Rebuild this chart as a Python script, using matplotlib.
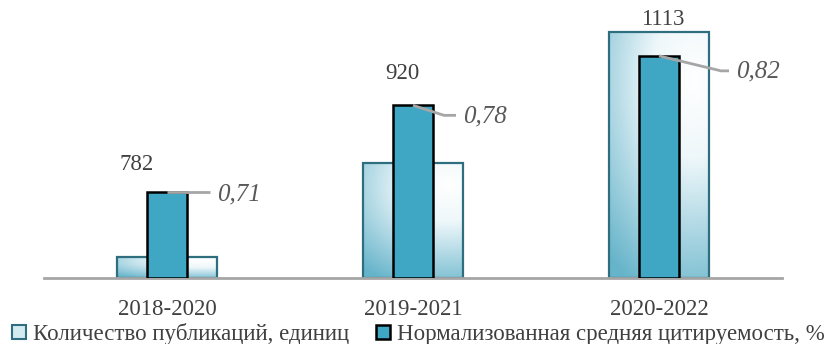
import numpy as np
import matplotlib.pyplot as plt
from matplotlib.patches import Patch
from matplotlib.colors import LinearSegmentedColormap

# publications per period and normalised mean citation rate
periods = ["2018-2020", "2019-2021", "2020-2022"]
publications = [782, 920, 1113]
citation = [0.71, 0.78, 0.82]
citation_labels = ["0,71", "0,78", "0,82"]

plt.rcParams['font.family'] = ['Liberation Serif', 'DejaVu Serif']

pub_edge = '#2e6e7e'
cit_face = '#3fa6c4'
txt = '#404040'
grad = LinearSegmentedColormap.from_list('g', ['#ffffff', '#eef7fa', '#a9d5e2', '#66b4ca'])

fig = plt.figure(figsize=(8.37, 3.44), dpi=100)
ax = fig.add_axes([44 / 837, 1 - 278 / 344, 738 / 837, 258 / 344])
ax2 = ax.twinx()

x = np.arange(len(periods))
pub_lo, pub_hi = 751, 1130
cit_lo, cit_hi = 0.6404, 0.849

wide = 0.41
narrow = 0.165
bars = ax.bar(x, [p - pub_lo for p in publications], wide, bottom=pub_lo,
              facecolor='none', edgecolor=pub_edge, linewidth=1.6, zorder=3)

# gradient fill clipped to each publication bar
ny, nx = 120, 60
u = np.linspace(0, 1, nx)[None, :]
v = np.linspace(1, 0, ny)[:, None]
d = np.sqrt(((u - 0.85) / 1.3) ** 2 + ((v - 0.8) / 0.95) ** 2)
d = np.clip(d, 0, 1)
for b in bars:
    x0, y0 = b.get_x(), b.get_y()
    im = ax.imshow(d, cmap=grad, vmin=0, vmax=1, aspect='auto', zorder=2,
                   extent=[x0, x0 + b.get_width(), y0, y0 + b.get_height()],
                   interpolation='bilinear')
    im.set_clip_path(b)
ax.set_xlim(-0.5, len(periods) - 0.5)
ax.set_ylim(pub_lo, pub_hi)
ax2.set_ylim(cit_lo, cit_hi)

ax2.bar(x, [c - cit_lo for c in citation], narrow, bottom=cit_lo,
        facecolor=cit_face, edgecolor='black', linewidth=1.8, zorder=3)

for a in (ax, ax2):
    for s in ['top', 'right', 'left']:
        a.spines[s].set_visible(False)
    a.set_yticks([])
ax2.spines['bottom'].set_visible(False)
ax.spines['bottom'].set_color('#a6a6a6')
ax.spines['bottom'].set_linewidth(2)
ax.spines['bottom'].set_zorder(5)

ax.set_xticks(x)
ax.set_xticklabels(periods, fontsize=16.5, color=txt)
ax.tick_params(axis='x', length=0, pad=15)

# publication counts above the bars (pixel offsets from bar top)
val_offsets = [(-30, 92), (-11, 89), (4, 12)]
for xi, p, (dx, dy) in zip(x, publications, val_offsets):
    ax.annotate(str(p), (xi, p), xytext=(dx * 0.72, dy * 0.72), textcoords='offset points',
                ha='center', va='center', fontsize=16.5, color=txt)

# citation labels with leader lines (elbow offsets in pixels)
leaders = [[(0, 0), (43, 0)],
           [(0, 0), (31, -10), (43, -10)],
           [(0, 0), (62, -15), (70, -15)]]
label_shift = [(50, -3), (50, -11), (77, -16)]
inv = ax2.transData.inverted()
for xi, c, lab, pts, (lx, ly) in zip(x, citation, citation_labels, leaders, label_shift):
    px, py = ax2.transData.transform((xi, c))
    line = inv.transform([(px + a, py + b) for a, b in pts])
    ax2.plot(line[:, 0], line[:, 1], color='#a6a6a6', lw=2, zorder=4, solid_capstyle='butt')
    ax2.annotate(lab, (xi, c), xytext=(lx * 0.72, ly * 0.72), textcoords='offset points',
                 ha='left', va='center', fontsize=18, style='italic', color='#595959')

handles = [Patch(facecolor='#d4eaf1', edgecolor=pub_edge, linewidth=1.5),
           Patch(facecolor=cit_face, edgecolor='black', linewidth=1.8)]
fig.legend(handles, ["Количество публикаций, единиц", "Нормализованная средняя цитируемость, %"],
           loc='center', bbox_to_anchor=(0.5, 1 - 334 / 344), ncol=2, frameon=False,
           fontsize=16.5, handlelength=0.6, handleheight=0.6, handletextpad=0.3,
           columnspacing=1.2, labelcolor=txt, borderaxespad=0)

fig.savefig('out.png', dpi=100)
